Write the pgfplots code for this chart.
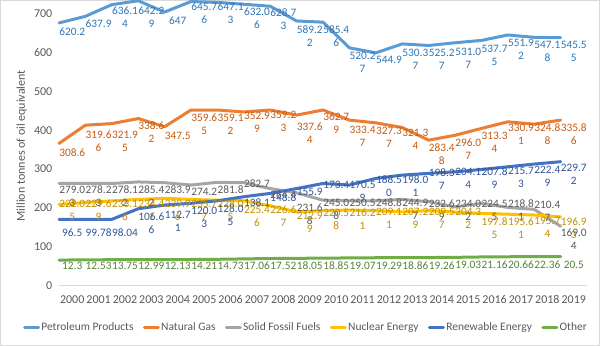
\documentclass[border=0pt]{standalone}
\usepackage{fontspec}
\setmainfont{Carlito}
\usepackage{pgfplots}
\pgfplotsset{compat=1.18}
\protected\def\Lb#1#2{#1\\#2}
\definecolor{cPet}{HTML}{5B9BD5}
\definecolor{cGas}{HTML}{ED7D31}
\definecolor{cSol}{HTML}{A5A5A5}
\definecolor{cNuc}{HTML}{FFC000}
\definecolor{cRen}{HTML}{4472C4}
\definecolor{cOth}{HTML}{70AD47}
\definecolor{tPet}{HTML}{2E75B6}
\definecolor{tGas}{HTML}{C55A11}
\definecolor{tSol}{HTML}{595959}
\definecolor{tNuc}{HTML}{BF9000}
\definecolor{tRen}{HTML}{2F5597}
\definecolor{tOth}{HTML}{548235}
\definecolor{cTick}{HTML}{595959}
\definecolor{cAxis}{HTML}{D9D9D9}
\pgfplotsset{
  lbl/.style={forget plot, draw=none, mark=none, point meta=explicit symbolic,
    nodes near coords={\pgfplotspointmeta},
    every node near coord/.append style={anchor=north, inner sep=0pt, align=center,
      font=\fontsize{8.5}{9.75}\selectfont, text=#1}},
  ln/.style={draw=#1, line width=2.25pt, mark=none, line join=round, line cap=round},
}
\begin{document}
\begin{tikzpicture}
\path[use as bounding box] (-44.25pt,-45.2pt) rectangle (405.75pt,214.3pt);
\draw[draw=cAxis, line width=0.75pt] (-43.9pt,-44.85pt) rectangle (405.4pt,213.95pt);
\begin{axis}[
  at={(0,0)}, anchor=south west,
  scale only axis, width=396pt, height=214.3pt,
  xmin=-0.5, xmax=19.5, ymin=0, ymax=735,
  clip=false,
  axis x line*=bottom, axis y line*=left,
  x axis line style={draw=cAxis, line width=0.75pt, -},
  y axis line style={draw=none},
  major tick length=0pt,
  xtick={0,...,19},
  xticklabels={2000,2001,2002,2003,2004,2005,2006,2007,2008,2009,2010,2011,2012,2013,2014,2015,2016,2017,2018,2019},
  ytick={0,100,...,700},
  tick label style={font=\fontsize{9}{10}\selectfont, text=cTick},
  xticklabel style={anchor=center, yshift=-10.5pt},
  yticklabel style={anchor=east, xshift=-1.5pt},
  /pgf/number format/assume math mode=true,
  ylabel={Million tonnes of oil equivalent},
  every axis y label/.style={at={(rel axis cs:-0.0707,0.49)}, anchor=center, rotate=90,
    font=\fontsize{9}{10}\selectfont, text=cTick},
  legend style={at={(0.467,-0.1446)}, anchor=center, draw=none, fill=none,
    font=\fontsize{8.6}{10}\selectfont, text=cTick, inner sep=0pt,
    nodes={inner sep=1pt},
    /tikz/every even column/.append style={column sep=6pt}},
  legend columns=6,
  legend image code/.code={\draw[#1, line width=2.25pt] (0pt,0pt) -- (10.5pt,0pt);},
]
% ---- lines (points drawn half a category to the left, as in the reference)
\addplot[ln=cPet] coordinates {(-0.5,676) (0.5,693) (1.5,723) (2.5,733) (3.5,704) (4.5,731) (5.5,729) (6.5,724) (7.5,719) (8.5,681) (9.5,678) (10.5,612) (11.5,599) (12.5,622) (13.5,618) (14.5,625) (15.5,631) (16.5,645) (17.5,639) (18.5,638)};
\addlegendentry{Petroleum Products}
\addplot[ln=cGas] coordinates {(-0.5,366) (0.5,413) (1.5,417) (2.5,430) (3.5,409) (4.5,452) (5.5,452) (6.5,447) (7.5,452) (8.5,439) (9.5,452) (10.5,426) (11.5,419) (12.5,407) (13.5,374.5) (14.5,387) (15.5,404.6) (16.5,421.6) (17.5,415.7) (18.5,426)};
\addlegendentry{Natural Gas}
\addplot[ln=cSol] coordinates {(-0.5,263) (0.5,263) (1.5,263) (2.5,267) (3.5,265) (4.5,259) (5.5,266) (6.5,265) (7.5,250) (8.5,239) (9.5,220) (10.5,218.5) (11.5,218.5) (12.5,222) (13.5,216) (14.5,203) (15.5,212) (16.5,201.5) (17.5,196.4) (18.5,153)};
\addlegendentry{Solid Fossil Fuels}
\addplot[ln=cNuc] coordinates {(-0.5,209) (0.5,214) (1.5,218) (2.5,222) (3.5,225) (4.5,222) (5.5,220) (6.5,218.5) (7.5,205.7) (8.5,190) (9.5,193) (10.5,194.6) (11.5,193) (12.5,190) (13.5,193) (14.5,189.5) (15.5,186) (16.5,184) (17.5,182) (18.5,177)};
\addlegendentry{Nuclear Energy}
\addplot[ln=cRen] coordinates {(-0.5,170.7) (0.5,170.7) (1.5,170.7) (2.5,198) (3.5,207.5) (4.5,212) (5.5,218.5) (6.5,229) (7.5,237.5) (8.5,250) (9.5,263) (10.5,259) (11.5,276) (12.5,284.6) (13.5,289) (14.5,293) (15.5,299) (16.5,306) (17.5,313) (18.5,319)};
\addlegendentry{Renewable Energy}
\addplot[ln=cOth] coordinates {(-0.5,66) (0.5,66.5) (1.5,67) (2.5,67) (3.5,67) (4.5,67.5) (5.5,68) (6.5,69) (7.5,70) (8.5,70.5) (9.5,71) (10.5,71.5) (11.5,72) (12.5,72) (13.5,72.5) (14.5,73) (15.5,74) (16.5,74.5) (17.5,75) (18.5,75)};
\addlegendentry{Other}
% ---- data labels
\addplot[lbl=tPet] coordinates {(0,663) [620.2] (1,683.5) [637.9] (2,717.7) [\Lb{636.1}{4}] (3,717.7) [\Lb{642.2}{9}] (4,692.8) [647] (5,728.8) [\Lb{645.7}{6}] (6,728.8) [\Lb{647.1}{3}] (7,714.4) [\Lb{632.0}{6}] (8,714.4) [\Lb{628.7}{3}] (9,668.9) [\Lb{589.2}{2}] (10,668.9) [\Lb{585.4}{6}] (11,602.1) [\Lb{520.2}{7}] (12,591.8) [544.9] (13,609) [\Lb{530.3}{7}] (14,609) [\Lb{525.2}{7}] (15,613.1) [\Lb{531.0}{7}] (16,620.1) [\Lb{537.7}{5}] (17,634.7) [\Lb{551.9}{2}] (18,628.5) [\Lb{547.1}{8}] (19,628.5) [\Lb{545.5}{5}]};
\addplot[lbl=tGas] coordinates {(0,353.5) [308.6] (1,399) [\Lb{319.6}{6}] (2,399) [\Lb{321.9}{5}] (3,422.1) [\Lb{338.6}{2}] (4,394.6) [347.5] (5,441.9) [\Lb{359.6}{5}] (6,441.9) [\Lb{359.1}{2}] (7,446) [\Lb{352.9}{9}] (8,450.4) [\Lb{359.2}{3}] (9,420.3) [\Lb{337.6}{4}] (10,446) [\Lb{362.7}{9}] (11,411.8) [\Lb{333.4}{7}] (12,407.5) [\Lb{327.3}{7}] (13,403.3) [\Lb{321.3}{4}] (14,364.8) [\Lb{283.4}{8}] (15,377.6) [\Lb{296.0}{7}] (16,394.6) [\Lb{313.3}{4}] (17,416.2) [\Lb{330.9}{1}] (18,416.2) [\Lb{324.8}{8}] (19,416.2) [\Lb{335.8}{6}]};
\addplot[lbl=tSol] coordinates {(0,257.6) [\Lb{279.0}{3}] (1,257.6) [\Lb{278.2}{3}] (2,257.6) [\Lb{278.1}{2}] (3,257.6) [\Lb{285.4}{2}] (4,257.6) [283.9] (5,252.4) [274.2] (6,257.6) [281.8] (7,273) [282.7] (8,244.7) [264.4] (9,210.5) [\Lb{231.6}{8}] (10,223.4) [\Lb{245.0}{8}] (11,223.4) [250.5] (12,223.4) [248.8] (13,223.4) [\Lb{244.9}{7}] (14,220.8) [\Lb{232.6}{9}] (15,220.8) [\Lb{234.0}{2}] (16,220.8) [\Lb{224.5}{5}] (17,220.8) [\Lb{218.8}{1}] (18,219) [\Lb{210.4}{7}] (19,147.8) [\Lb{169.0}{4}]};
\addplot[lbl=tNuc] coordinates {(0,221.6) [\Lb{222.0}{5}] (1,221.6) [\Lb{229.6}{9}] (2,221.6) [\Lb{233.1}{6}] (3,221.6) [\Lb{234.4}{1}] (4,221.6) [\Lb{239.9}{6}] (5,221.6) [\Lb{235.7}{7}] (6,221.6) [\Lb{228.0}{5}] (7,205) [\Lb{225.4}{6}] (8,205) [\Lb{226.6}{7}] (9,189) [\Lb{212.9}{9}] (10,197.7) [\Lb{220.5}{8}] (11,199.2) [\Lb{216.2}{1}] (12,199.2) [\Lb{209.1}{1}] (13,199.2) [\Lb{207.2}{9}] (14,199.2) [\Lb{209.5}{7}] (15,199.2) [\Lb{204.3}{2}] (16,176.1) [\Lb{197.8}{5}] (17,176.1) [\Lb{195.6}{1}] (18,176.1) [\Lb{195.7}{4}] (19,176.1) [\Lb{196.9}{3}]};
\addplot[lbl=tRen] coordinates {(0,146.3) [96.5] (1,146.3) [99.78] (2,146.3) [98.04] (3,189) [\Lb{106.6}{6}] (4,193.3) [\Lb{112.7}{1}] (5,201.8) [\Lb{120.0}{3}] (6,208) [\Lb{128.0}{5}] (7,223.4) [138.1] (8,236.2) [148.8] (9,250.6) [155.9] (10,270.4) [173.4] (11,270.4) [\Lb{170.5}{9}] (12,283.3) [\Lb{188.5}{0}] (13,283.3) [\Lb{198.0}{1}] (14,300.5) [\Lb{198.3}{7}] (15,302) [\Lb{204.1}{4}] (16,304.6) [\Lb{207.8}{9}] (17,304.6) [\Lb{215.7}{3}] (18,309) [\Lb{222.4}{9}] (19,313.4) [\Lb{229.7}{2}]};
\addplot[lbl=tOth] coordinates {(0,60.5) [12.3] (1,60.5) [12.53] (2,60.5) [13.75] (3,60.5) [12.99] (4,60.5) [12.13] (5,61) [14.21] (6,61) [14.73] (7,61.5) [17.06] (8,61.5) [17.52] (9,62) [18.05] (10,62) [18.85] (11,62.5) [19.07] (12,62.5) [19.29] (13,63) [18.86] (14,63) [19.26] (15,63.5) [19.03] (16,63.5) [21.16] (17,64) [20.66] (18,64) [22.36] (19,64.5) [20.5]};
\end{axis}
\end{tikzpicture}
\end{document}
